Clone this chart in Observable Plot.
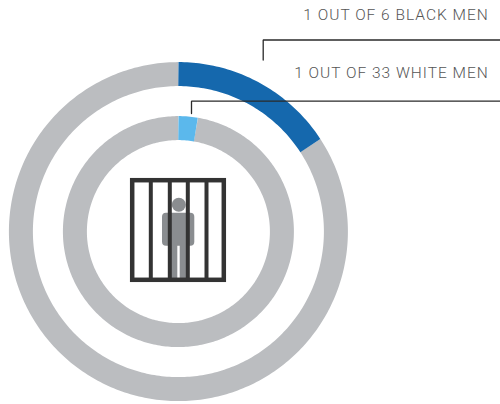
<!DOCTYPE html>
<html>
<head>
<meta charset="utf-8">
<style>html,body{margin:0;padding:0;background:#fff}svg{display:block}</style>
<script src="https://cdn.jsdelivr.net/npm/d3@7"></script>
<script src="https://cdn.jsdelivr.net/npm/@observablehq/plot@0.6"></script>
</head>
<body>
<script>
const groups = ["Black men", "White men"];
const labels = ["1 OUT OF 6 BLACK MEN", "1 OUT OF 33 WHITE MEN"];
const shares = [0.158, 0.027];
const ringRadii = [157.5, 103.5];
const ringCenter = [-0.6, -0.4];
const highlightColors = ["#1568ad", "#5bb8ec"];
const restColor = "#bbbdc0";
const leaders = [
  {id: 0, pts: [[84.2, -172], [84.2, -192], [322, -192]]},
  {id: 1, pts: [[12.5, -118.5], [12.5, -130.8], [322, -130.8]]}
];
const labelPos = [{x: 309.8, y: -216.5}, {x: 309.8, y: -158.5}];

// Each ring is split by its share; arcs are traced clockwise from 12 o'clock.
function arcRows() {
  const rows = [];
  groups.forEach((g, i) => {
    const share = shares[i];
    [[0, share, highlightColors[i]], [share, 1, restColor]].forEach(([a, b, color], k) => {
      const n = Math.ceil((b - a) * 360);
      for (let s = 0; s <= n; s++) {
        const t = 2 * Math.PI * (a + (b - a) * s / n);
        rows.push({key: g + k, color, x: ringCenter[0] + ringRadii[i] * Math.sin(t), y: ringCenter[1] - ringRadii[i] * Math.cos(t)});
      }
    });
  });
  return rows;
}
const rows = arcRows();
const order = d3.rollups(rows, v => v, d => d.key).sort((a, b) => (a[1][0].color === restColor ? -1 : 1));
const sorted = order.flatMap(d => d[1]);

const barX = [-28.2, -9.2, 8.8, 27.5];
const dark = "#333333", figure = "#8a8d90";

const chart = Plot.plot({
  width: 500, height: 404,
  margin: 0,
  x: {domain: [-178.5, 321.5], axis: null},
  y: {domain: [-231.5, 172.5], range: [0, 404], axis: null},
  style: {background: "#fff", letterSpacing: "1px"},
  marks: [
    Plot.line(sorted, {x: "x", y: "y", z: "key", stroke: "color", strokeWidth: 24, strokeLinecap: "butt", strokeLinejoin: "round"}),
    // figure
    Plot.rect([{x1: -16.5, x2: 15.8, y1: -18.8, y2: 14.2}], {x1: "x1", x2: "x2", y1: "y1", y2: "y2", fill: figure, rx: 4}),
    Plot.rect([{x1: -9.5, x2: -1.2, y1: 10, y2: 47}, {x1: 1.2, x2: 8.8, y1: 10, y2: 47}], {x1: "x1", x2: "x2", y1: "y1", y2: "y2", fill: figure}),
    Plot.dot([{x: -0.2, y: -27.2}], {x: "x", y: "y", r: 7, fill: figure}),
    // bars
    Plot.ruleX(barX, {y1: -51, y2: 48, stroke: dark, strokeWidth: 4}),
    Plot.rect([{x1: -46.3, x2: 45.3, y1: -51.3, y2: 48.3}], {x1: "x1", x2: "x2", y1: "y1", y2: "y2", fill: "none", stroke: dark, strokeWidth: 4.5}),
    // leaders
    Plot.line(leaders.flatMap(l => l.pts.map(p => ({id: l.id, x: p[0], y: p[1]}))), {x: "x", y: "y", z: "id", stroke: "#2a2a2a", strokeWidth: 1.3, strokeLinejoin: "miter"}),
    // labels
    Plot.text(labels, {x: (d, i) => labelPos[i].x, y: (d, i) => labelPos[i].y, text: d => d, textAnchor: "end", fontFamily: "Roboto", fontSize: 15.5, fontWeight: 300, fill: "#555555"})
  ]
});
document.body.appendChild(chart);
</script>
</body>
</html>
